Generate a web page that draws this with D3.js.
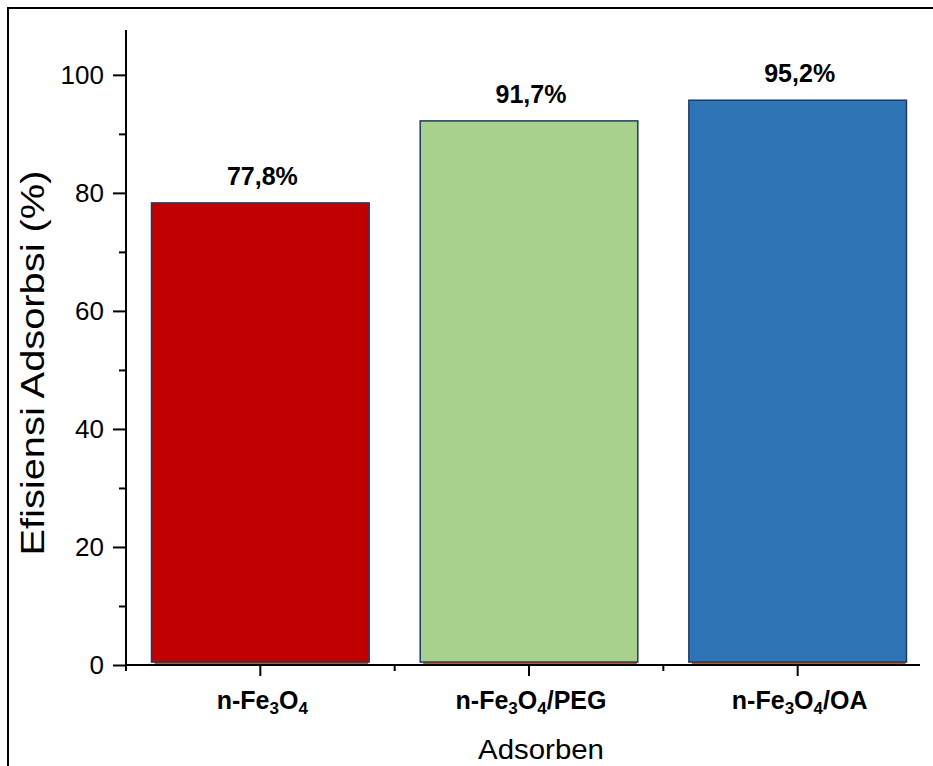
<!DOCTYPE html>
<html>
<head>
<meta charset="utf-8">
<script src="https://cdn.jsdelivr.net/npm/d3@7"></script>
<style>
  html, body { margin: 0; padding: 0; background: #fff; }
  svg { display: block; font-family: "Liberation Sans", Arial, sans-serif; }
</style>
</head>
<body>
<svg id="chart" width="933" height="766"></svg>
<script>
// Adsorbent categories and their adsorption efficiency (%)
const categories = ["n-Fe3O4", "n-Fe3O4/PEG", "n-Fe3O4/OA"];
const efficiency = [77.8, 91.7, 95.2];
const baseSeries = [0.5, 0.5, 0.5];
const valueLabels = ["77,8%", "91,7%", "95,2%"];
const yTicks = [0, 20, 40, 60, 80, 100];
const yMinorTicks = [10, 30, 50, 70, 90];
const barColors = ["#c00000", "#a9d18e", "#2e75b6"];

const svg = d3.select("#chart");

// outer frame (open on the right and bottom)
svg.append("path")
  .attr("d", "M8,770 L8,8 L940,8")
  .attr("fill", "none").attr("stroke", "#000").attr("stroke-width", 2);

const x = d3.scaleBand().domain(categories).range([126, 932]).paddingInner(0.19).paddingOuter(0.095);
const y = d3.scaleLinear().domain([0, 107.6]).range([665, 30]);

// y axis
const yAxis = svg.append("g").attr("transform", "translate(126,0)")
  .call(d3.axisLeft(y).tickValues(yTicks).tickSize(13).tickPadding(9).tickFormat(d3.format("d")));
yAxis.select(".domain").remove();
yAxis.selectAll(".tick line").attr("stroke", "#000").attr("stroke-width", 2);
yAxis.selectAll(".tick text").attr("font-size", 26).attr("fill", "#000")
  .attr("font-family", "Liberation Sans, Arial, sans-serif");
svg.append("g").attr("transform", "translate(126,0)")
  .call(d3.axisLeft(y).tickValues(yMinorTicks).tickSize(7).tickFormat(""))
  .call(g => g.select(".domain").remove())
  .selectAll(".tick line").attr("stroke", "#000").attr("stroke-width", 2);
svg.append("line").attr("x1", 126).attr("x2", 126).attr("y1", y(107.6)).attr("y2", y(0) + 1)
  .attr("stroke", "#000").attr("stroke-width", 2);

// bars: thin base segment with the efficiency stacked on top
const base = svg.append("g");
categories.forEach((c, i) => {
  base.append("rect")
    .attr("x", x(c) + 3).attr("width", x.bandwidth() - 4)
    .attr("y", y(baseSeries[i])).attr("height", y(0) - y(baseSeries[i]))
    .attr("fill", "#c55a11");
});
const bars = svg.append("g");
categories.forEach((c, i) => {
  const top = baseSeries[i] + efficiency[i];
  bars.append("rect")
    .attr("x", x(c)).attr("width", x.bandwidth())
    .attr("y", y(top)).attr("height", y(baseSeries[i]) - y(top))
    .attr("fill", barColors[i]).attr("stroke", "#203864").attr("stroke-width", 1.5);
  svg.append("text")
    .attr("x", x(c) + x.bandwidth() / 2 + 2).attr("y", y(top) - 18)
    .attr("text-anchor", "middle").attr("font-size", 25).attr("font-weight", "bold")
    .text(valueLabels[i]);
});

// x axis
svg.append("line").attr("x1", 125).attr("x2", 920).attr("y1", 665).attr("y2", 665)
  .attr("stroke", "#000").attr("stroke-width", 2);
const boundaries = [126].concat(categories.slice(1).map(c => x(c) - x.step() * x.paddingInner() / 2));
boundaries.forEach(b => {
  svg.append("line").attr("x1", b).attr("x2", b).attr("y1", 665).attr("y2", 671)
    .attr("stroke", "#000").attr("stroke-width", 2);
});
categories.forEach(c => {
  const cx = x(c) + x.bandwidth() / 2;
  svg.append("line").attr("x1", cx).attr("x2", cx).attr("y1", 665).attr("y2", 676)
    .attr("stroke", "#000").attr("stroke-width", 2);
  // category label with chemical subscripts
  const t = svg.append("text").attr("x", cx + 2).attr("y", 709)
    .attr("text-anchor", "middle").attr("font-size", 25).attr("font-weight", "bold");
  const parts = c.split(/(\d)/).filter(s => s.length);
  let prevSub = false;
  parts.forEach(p => {
    if (/^\d$/.test(p)) {
      t.append("tspan").attr("font-size", 17).attr("dy", 5).text(p);
      prevSub = true;
    } else {
      t.append("tspan").attr("dy", prevSub ? -5 : 0).text(p);
      prevSub = false;
    }
  });
});

// axis titles
svg.append("text").attr("x", 541).attr("y", 759).attr("text-anchor", "middle")
  .attr("font-size", 28).attr("textLength", 126).attr("lengthAdjust", "spacingAndGlyphs")
  .text("Adsorben");
svg.append("text").attr("transform", "translate(44,363) rotate(-90)")
  .attr("text-anchor", "middle").attr("font-size", 33)
  .attr("textLength", 385).attr("lengthAdjust", "spacingAndGlyphs")
  .text("Efisiensi Adsorbsi (%)");
</script>
</body>
</html>
